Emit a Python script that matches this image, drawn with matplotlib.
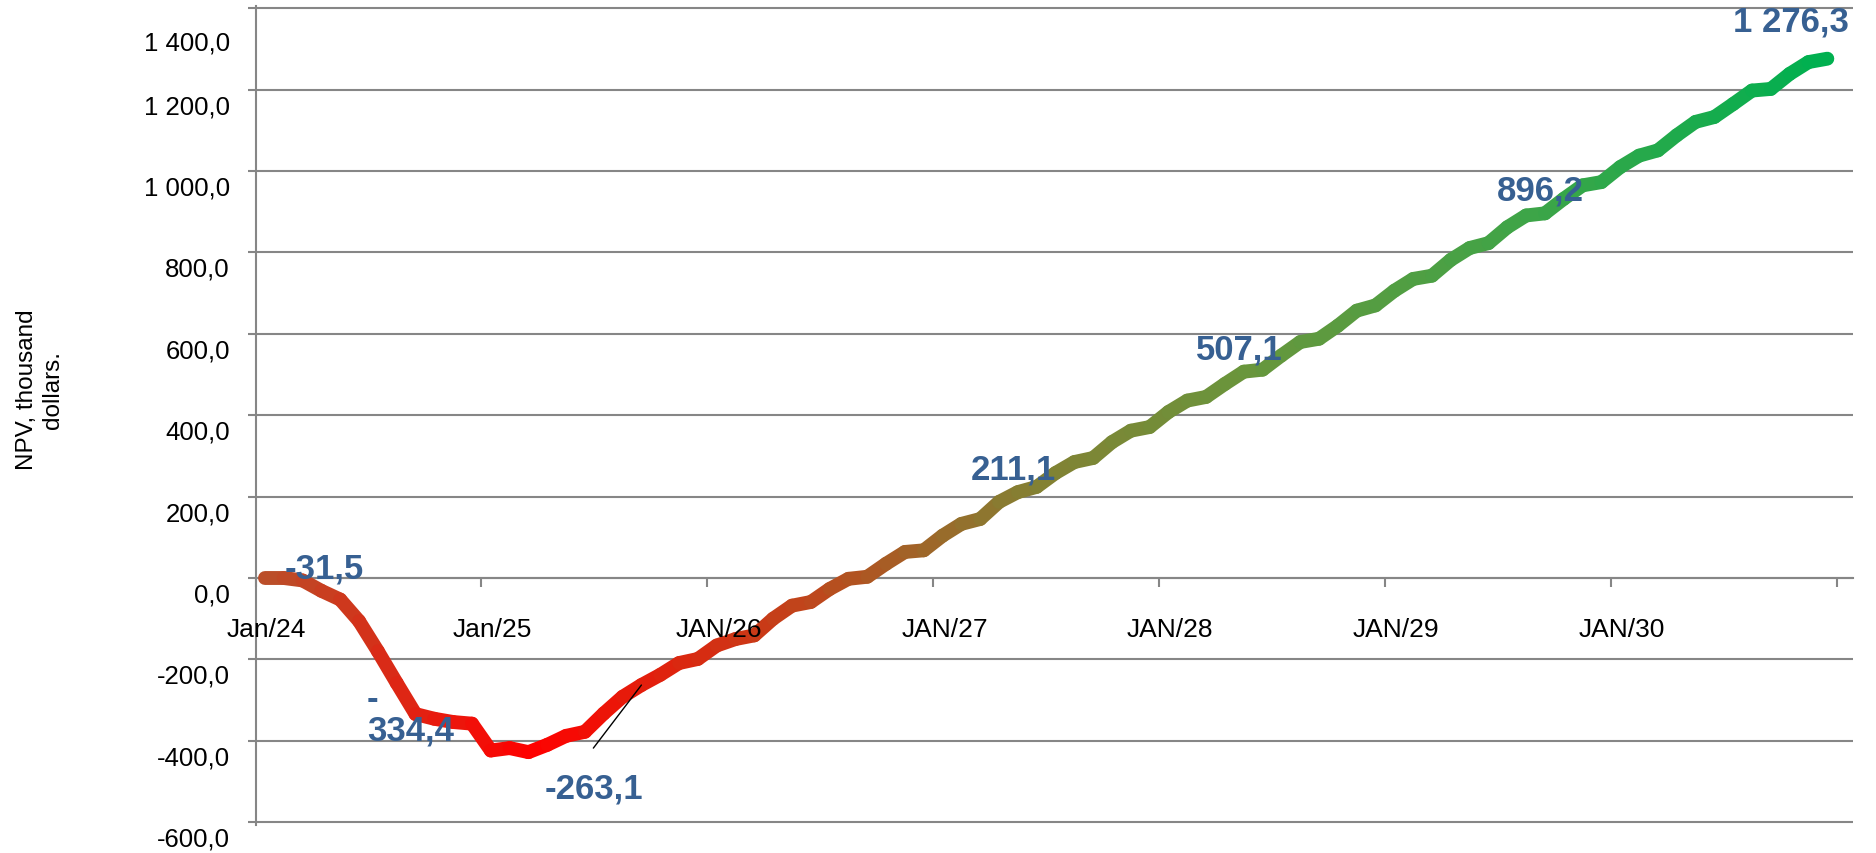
import numpy as np
import matplotlib.pyplot as plt
from matplotlib.collections import LineCollection
from matplotlib.colors import LinearSegmentedColormap
from matplotlib.transforms import ScaledTranslation

plt.rcParams['font.family'] = ['Liberation Sans', 'DejaVu Sans']

# monthly NPV, thousand dollars, Jan/24 .. Dec/30
npv = [
    0, 0, -6, -31.5, -53, -106, -180, -258, -334.4, -346, -354, -358,
    -424, -418, -428, -410, -388, -378, -333, -292, -263.1, -238, -209, -199,
    -166, -150, -141, -100, -68, -59, -27, -2, 3, 35, 64, 68,
    104, 133, 145, 187, 211.1, 224, 258, 285, 295, 334, 362, 371,
    408, 436, 445, 477, 507.1, 512, 547, 580, 588, 620, 657, 670,
    706, 735, 743, 782, 811, 823, 862, 891, 896.2, 932, 965, 973,
    1010, 1038, 1051, 1088, 1121, 1133, 1165, 1198, 1202, 1239, 1268, 1276.3,
]
year_labels = ['Jan/24', 'Jan/25', 'JAN/26', 'JAN/27', 'JAN/28', 'JAN/29', 'JAN/30']
yticks = list(range(-600, 1401, 200))

# months that carry a value label
label_months = [3, 8, 20, 40, 52, 68, 83]
label_dx = [2, -3.6, -34.5, -3, -3, -3.6, -26]     # points
label_dy = [16.5, 0, -74, 16.5, 16.5, 16.5, 27]
wrapped = {8}                                        # label broken after the sign
leader_month = 20
leader_end = (-34.6, -45.4)

# colour stops along the curve: loss in red, payback in green
grad_pos = [0.0, 0.17, 0.36, 0.48, 0.63, 0.82, 1.0]
grad_col = ['#B9502A', '#FF0000', '#BA4B1E', '#877D32', '#69963C', '#3CA548', '#00B050']

GRID = '#868686'
LABEL_BLUE = '#376092'


def fmt(v):
    return f"{v:,.1f}".replace(",", " ").replace(".", ",")


months = np.arange(len(npv))
values = np.array(npv, dtype=float)

fig = plt.figure(figsize=(18.76, 8.54), dpi=100)
ax = fig.add_axes([0.1362, 0.0333, 0.8516, 0.9586])

# gradient line: one segment per month
pts = np.column_stack([months, values])
segs = np.stack([pts[:-1], pts[1:]], axis=1)
cmap = LinearSegmentedColormap.from_list('npv', list(zip(grad_pos, grad_col)))
mid = (months[:-1] + months[1:]) / 2 / months[-1]
lc = LineCollection(segs, colors=cmap(mid), linewidths=10,
                    capstyle='round', joinstyle='round', zorder=3)
ax.add_collection(lc)

ax.set_xlim(-0.5, 84.37)
ax.set_ylim(-606, 1406)

# axes styling
for side in ('top', 'right'):
    ax.spines[side].set_visible(False)
ax.spines['left'].set_color(GRID)
ax.spines['left'].set_linewidth(1.5)
ax.spines['bottom'].set_position(('data', 0))
ax.spines['bottom'].set_color(GRID)
ax.spines['bottom'].set_linewidth(1.5)
ax.grid(axis='y', color=GRID, linewidth=1.5)
ax.set_axisbelow(True)

ax.set_xticks([12 * k - 0.5 for k in range(len(year_labels) + 1)])
ax.tick_params(axis='x', direction='out', length=6.5, width=1.5,
               color=GRID, labelbottom=False)
for k, lab in enumerate(year_labels):
    ax.text(12 * k + 0.1, -142, lab, ha='center', va='baseline', fontsize=19)

ax.set_yticks(yticks, [fmt(v) for v in yticks])
ax.tick_params(axis='y', direction='out', length=5.8, width=1.5,
               color=GRID, pad=12.6, labelsize=18.5)
for v, lab in zip(yticks, ax.get_yticklabels()):
    shift = -0.32 if v == yticks[-1] else -0.14
    lab.set_transform(lab.get_transform()
                      + ScaledTranslation(0, shift, fig.dpi_scale_trans))

# value labels
for m, dx, dy in zip(label_months, label_dx, label_dy):
    txt = fmt(npv[m])
    if m in wrapped:
        txt = txt.replace("-", "-\n", 1)
    ax.annotate(txt, xy=(m, npv[m]), xytext=(dx, dy), textcoords='offset points',
                ha='center', va='center', multialignment='left', linespacing=0.95,
                fontsize=25, fontweight='bold', color=LABEL_BLUE, zorder=4)

ax.annotate('', xy=(leader_month, npv[leader_month]), xytext=leader_end,
            textcoords='offset points',
            arrowprops=dict(arrowstyle='-', color='black', lw=1,
                            shrinkA=0, shrinkB=0), zorder=4)

fig.text(0.0213, 0.5433, 'NPV, thousand\ndollars.', rotation=90,
         ha='center', va='center', multialignment='center', fontsize=17.5)

fig.savefig('out.png', dpi=100)
